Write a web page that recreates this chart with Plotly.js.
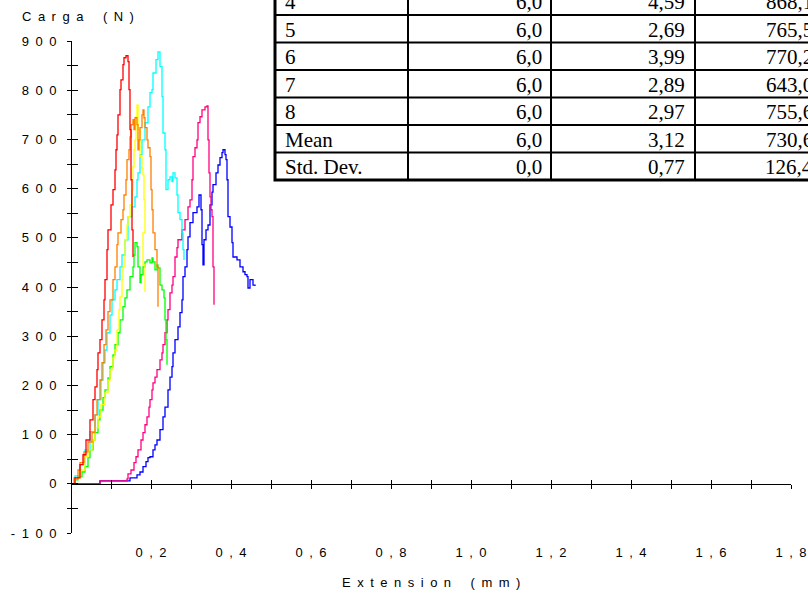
<!DOCTYPE html>
<html>
<head>
<meta charset="utf-8">
<script src="https://cdn.plot.ly/plotly-3.0.1.min.js"></script>
<style>html,body{margin:0;padding:0;background:#fff;}#chart{width:808px;height:595px;}</style>
</head>
<body>
<div id="chart"></div>
<script>
// ---- Data (Extension in mm, Load in N) ----
const blueX = [0,0.0725,0.1475,0.165,0.1725,0.18,0.1875,0.1925,0.1975,0.205,0.21,0.215,0.2225,0.23,0.235,0.2425,0.2475,0.2525,0.255,0.26,0.2675,0.2725,0.2775,0.28,0.28,0.285,0.29,0.2925,0.2975,0.305,0.315,0.32,0.325,0.3275,0.33,0.3325,0.3375,0.3425,0.3475,0.3525,0.355,0.3625,0.3675,0.3725,0.3775,0.38,0.385,0.3875,0.39,0.3925,0.3925,0.3975,0.4025,0.405,0.415,0.4225,0.43,0.435,0.44,0.4425,0.4475,0.455,0.46];
const blueY = [0,6,12,18,24,35,45,53,55,69,79,89,110,136,156,191,217,238,266,293,319,348,374,394,421,441,476,502,531,551,563,587,557,486,445,496,516,526,567,593,608,632,648,663,673,679,669,659,618,577,543,522,490,461,455,441,431,425,421,398,415,404,402];

const pinkX = [0,0.0725,0.14,0.1425,0.15,0.1575,0.1625,0.1675,0.175,0.18,0.185,0.19,0.195,0.1975,0.2025,0.205,0.21,0.215,0.2225,0.2275,0.23,0.235,0.24,0.2425,0.2475,0.2525,0.255,0.26,0.265,0.2675,0.2775,0.285,0.2925,0.2975,0.3025,0.305,0.31,0.315,0.3175,0.3225,0.3275,0.335,0.34,0.3425,0.345,0.3475,0.35,0.3525,0.355,0.3575];
const pinkY = [0,6,10,20,28,43,55,69,89,104,120,136,156,171,191,205,217,232,252,266,283,307,333,354,388,404,421,461,480,496,516,537,563,577,618,665,683,699,734,746,760,766,768,699,632,583,557,543,441,364];

const greenX = [0,0.01,0.0175,0.0275,0.035,0.0425,0.0475,0.055,0.06,0.0675,0.0725,0.08,0.085,0.0925,0.0975,0.105,0.11,0.1175,0.1225,0.13,0.135,0.14,0.1475,0.155,0.1575,0.16,0.165,0.1675,0.1725,0.175,0.18,0.185,0.19,0.1975,0.2025,0.205,0.21,0.215,0.2175,0.2225,0.2275,0.2325,0.235,0.2375,0.24,0.24];
const greenY = [0,8,14,24,35,53,69,89,104,130,150,175,191,215,238,262,283,307,333,360,378,394,421,441,465,490,482,441,409,425,441,451,455,449,459,451,435,445,439,404,394,378,333,293,258,242];

const cyanX = [0,0.01,0.0225,0.035,0.0475,0.06,0.0675,0.075,0.08,0.085,0.09,0.0975,0.1025,0.11,0.115,0.1225,0.1275,0.135,0.1425,0.1525,0.16,0.165,0.1675,0.1725,0.1775,0.185,0.1925,0.1975,0.2025,0.205,0.2125,0.2175,0.2225,0.2275,0.23,0.23,0.235,0.2375,0.2425,0.2475,0.2525,0.255,0.26,0.265,0.265,0.2675,0.2725,0.2775,0.28,0.2825];
const cyanY = [0,16,39,69,106,140,171,211,246,272,307,343,374,394,415,441,465,496,543,563,583,618,632,669,699,734,766,795,801,835,862,878,848,787,774,713,679,598,618,624,614,632,622,618,587,551,537,510,476,455];

const yellowX = [0,0.01,0.0225,0.035,0.0425,0.0525,0.06,0.0675,0.075,0.085,0.0925,0.0975,0.105,0.11,0.115,0.12,0.1225,0.1275,0.13,0.135,0.14,0.1425,0.1475,0.1525,0.155,0.1575,0.16,0.1625,0.165,0.1675,0.1725,0.1775,0.18,0.1825,0.185,0.18,0.185];
const yellowY = [0,12,28,55,69,89,114,136,161,185,211,232,256,272,313,354,380,415,441,496,526,543,567,598,644,679,699,746,770,720,665,642,628,577,510,445,390];

const orangeX = [0,0.0075,0.0175,0.0225,0.0325,0.0425,0.0525,0.06,0.065,0.0725,0.0775,0.0825,0.0875,0.0925,0.0975,0.105,0.11,0.115,0.1175,0.125,0.13,0.1325,0.1375,0.14,0.145,0.1475,0.15,0.155,0.1575,0.16,0.165,0.1675,0.17,0.1725,0.1775,0.18,0.1825,0.185,0.19,0.1925,0.1975,0.2,0.2025,0.205,0.21,0.215,0.2175,0.2175];
const orangeY = [0,12,28,43,65,85,104,140,171,211,246,283,313,350,374,415,441,486,510,537,557,587,618,659,679,705,730,740,720,744,730,679,699,724,750,760,744,724,699,683,665,598,557,510,476,441,409,360];

const redX = [0,0.01,0.0225,0.03,0.0375,0.0475,0.055,0.06,0.065,0.0675,0.0725,0.0775,0.0825,0.085,0.09,0.0925,0.1,0.105,0.11,0.1125,0.115,0.1175,0.1225,0.125,0.13,0.1325,0.1375,0.1425,0.145,0.1475,0.15,0.1525,0.155];
const redY = [0,12,39,59,89,130,171,197,232,266,293,333,374,415,476,516,567,598,638,679,709,750,801,821,852,866,870,858,801,720,618,516,461];

// Axis tick labels
const xTickVals = [0.1,0.2,0.3,0.4,0.5,0.6,0.7,0.8,0.9,1.0,1.1,1.2,1.3,1.4,1.5,1.6,1.7,1.8];
const xTickLabels = ['','0,2','','0,4','','0,6','','0,8','','1,0','','1,2','','1,4','','1,6','','1,8'];
const yTickVals = [-100,-50,0,50,100,150,200,250,300,350,400,450,500,550,600,650,700,750,800,850,900];
const yTickLabels = ['-100','','0','','100','','200','','300','','400','','500','','600','','700','','800','','900'];
const xTitle = 'Extension (mm)';
const yTitle = 'Carga (N)';

// Results table (visible part)
const tableRows = ['4','5','6','7','8','Mean','Std. Dev.'];
const tableCol2 = ['6,0','6,0','6,0','6,0','6,0','6,0','0,0'];
const tableCol3 = ['4,59','2,69','3,99','2,89','2,97','3,12','0,77'];
const tableCol4 = ['868,1','765,5','770,2','643,0','755,6','730,6','126,4'];

// ---- Drawing ----
const SP = '\u2002';
function spaced(s){ return s.split('').map(c => c === ' ' ? SP : c).join(SP); }

const series = [
  {x: blueX, y: blueY, color: '#0000ff'},
  {x: pinkX, y: pinkY, color: '#ff0080'},
  {x: greenX, y: greenY, color: '#00ff00'},
  {x: cyanX, y: cyanY, color: '#00ffff'},
  {x: yellowX, y: yellowY, color: '#ffff00'},
  {x: orangeX, y: orangeY, color: '#ff8000'},
  {x: redX, y: redY, color: '#ff0000'}
];
const traces = series.map(s => ({
  type: 'scatter', mode: 'lines', x: s.x, y: s.y,
  line: {color: s.color, width: 1.3, shape: 'hv'},
  hoverinfo: 'skip'
}));
traces.push({type:'scatter', mode:'lines', x:[], y:[], xaxis:'x2', yaxis:'y2', hoverinfo:'skip'});

const L = 71, R = 17, T = 41, B = 62, W = 808, H = 595;
const pw = W - L - R, ph = H - T - B;
const px2x = p => (p - L) / pw;
const py2y = p => (H - B - p) / ph;

const shapes = [];
const annotations = [];
const rowTop = -12.5, rowH = 27.5;
const tLeft = 275, tRight = 850, colLines = [408, 551, 695];
shapes.push({type:'rect', xref:'paper', yref:'paper', x0:px2x(tLeft), x1:px2x(tRight), y0:py2y(rowTop - 20), y1:py2y(rowTop + rowH*tableRows.length), line:{color:'#000', width:3}, fillcolor:'#fff', layer:'above'});
for (let i = 1; i < tableRows.length; i++) {
  const yy = py2y(rowTop + rowH*i);
  shapes.push({type:'line', xref:'paper', yref:'paper', x0:px2x(tLeft), x1:px2x(tRight), y0:yy, y1:yy, line:{color:'#000', width:2}});
}
colLines.forEach(c => shapes.push({type:'line', xref:'paper', yref:'paper', x0:px2x(c), x1:px2x(c), y0:py2y(rowTop - 20), y1:py2y(rowTop + rowH*tableRows.length), line:{color:'#000', width:2}}));
const tfont = {family:'Liberation Serif, Times New Roman, serif', size:21, color:'#000'};
tableRows.forEach((r, i) => {
  const yc = py2y(rowTop + rowH*i + rowH/2 + 1);
  annotations.push({xref:'paper', yref:'paper', x:px2x(283), y:yc, xanchor:'left', yanchor:'middle', text:r, showarrow:false, font:tfont});
  annotations.push({xref:'paper', yref:'paper', x:px2x(544), y:yc, xanchor:'right', yanchor:'middle', text:tableCol2[i], showarrow:false, font:tfont});
  annotations.push({xref:'paper', yref:'paper', x:px2x(687), y:yc, xanchor:'right', yanchor:'middle', text:tableCol3[i], showarrow:false, font:tfont});
  annotations.push({xref:'paper', yref:'paper', x:px2x(815), y:yc, xanchor:'right', yanchor:'middle', text:tableCol4[i], showarrow:false, font:tfont});
});
const afont = {family:'Liberation Sans, Arial, sans-serif', size:13, color:'#000'};
annotations.push({xref:'paper', yref:'paper', x:px2x(20), y:py2y(17), xanchor:'left', yanchor:'middle', text:spaced(yTitle), showarrow:false, font:afont});
annotations.push({xref:'paper', yref:'paper', x:0.5, y:py2y(582), xanchor:'center', yanchor:'middle', text:spaced(xTitle), showarrow:false, font:afont});

const layout = {
  width: W, height: H,
  margin: {l:L, r:R, t:T, b:B, pad:0},
  paper_bgcolor: '#fff', plot_bgcolor: '#fff',
  showlegend: false,
  font: afont,
  xaxis: {range:[0,1.8], anchor:'free', position:0.1, showline:true, linecolor:'#000', linewidth:1,
    ticks:'outside', ticklen:4, tickcolor:'#000', tickwidth:1,
    tickmode:'array', tickvals:xTickVals, ticktext:xTickLabels.map(spaced),
    ticklabelstandoff:53, showgrid:false, zeroline:false, fixedrange:true, tickfont:afont},
  xaxis2: {range:[0,1.8], overlaying:'x', anchor:'free', position:0.1, showline:false,
    ticks:'inside', ticklen:4, tickcolor:'#000', tickwidth:1,
    tickmode:'array', tickvals:xTickVals, showticklabels:false, showgrid:false, zeroline:false},
  yaxis: {range:[-100,900], anchor:'free', position:0, showline:true, linecolor:'#000', linewidth:1,
    ticks:'outside', ticklen:4, tickcolor:'#000', tickwidth:1,
    tickmode:'array', tickvals:yTickVals, ticktext:yTickLabels.map(spaced),
    ticklabelstandoff:8, showgrid:false, zeroline:false, fixedrange:true, tickfont:afont},
  yaxis2: {range:[-100,900], overlaying:'y', anchor:'free', position:0, showline:false,
    ticks:'inside', ticklen:6, tickcolor:'#000', tickwidth:1,
    tickmode:'array', tickvals:yTickVals, showticklabels:false, showgrid:false, zeroline:false},
  shapes: shapes,
  annotations: annotations
};
Plotly.newPlot('chart', traces, layout, {displayModeBar:false, staticPlot:true});
</script>
</body>
</html>
